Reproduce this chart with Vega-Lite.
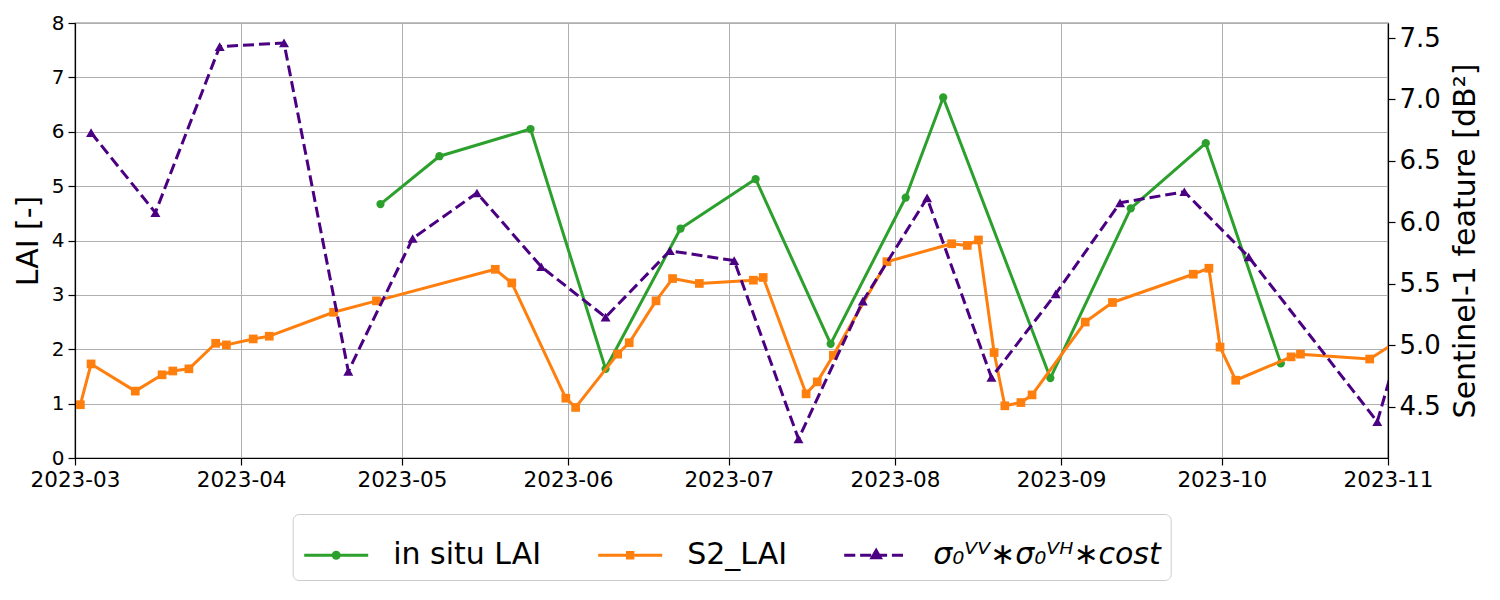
{
  "$schema": "https://vega.github.io/schema/vega-lite/v6.json",
  "width": 1313,
  "height": 435,
  "autosize": "none",
  "padding": {"left": 75, "top": 23, "right": 112, "bottom": 142},
  "background": "white",
  "config": {
    "font": "DejaVu Sans",
    "view": {"stroke": "black", "strokeWidth": 1.2},
    "axis": {
      "labelFont": "DejaVu Sans",
      "titleFont": "DejaVu Sans",
      "labelColor": "black",
      "titleColor": "black",
      "titleFontWeight": "normal",
      "domainColor": "black",
      "domainWidth": 1.2,
      "tickColor": "black",
      "tickWidth": 1.2,
      "tickSize": 7,
      "gridColor": "#b0b0b0",
      "gridWidth": 1,
      "gridOpacity": 1
    }
  },
  "datasets": {
    "insitu": [
      {"date": "2023-04-27", "series": "in situ LAI", "value": 4.67},
      {"date": "2023-05-08", "series": "in situ LAI", "value": 5.55},
      {"date": "2023-05-25", "series": "in situ LAI", "value": 6.05},
      {"date": "2023-06-08", "series": "in situ LAI", "value": 1.64},
      {"date": "2023-06-22", "series": "in situ LAI", "value": 4.22},
      {"date": "2023-07-06", "series": "in situ LAI", "value": 5.13},
      {"date": "2023-07-20", "series": "in situ LAI", "value": 2.10},
      {"date": "2023-08-03", "series": "in situ LAI", "value": 4.79},
      {"date": "2023-08-10", "series": "in situ LAI", "value": 6.63},
      {"date": "2023-08-30", "series": "in situ LAI", "value": 1.47},
      {"date": "2023-09-14", "series": "in situ LAI", "value": 4.59},
      {"date": "2023-09-28", "series": "in situ LAI", "value": 5.79},
      {"date": "2023-10-12", "series": "in situ LAI", "value": 1.74}
    ],
    "s2": [
      {"date": "2023-03-02T00:00:00Z", "series": "S2_LAI", "value": 0.98},
      {"date": "2023-03-04T00:00:00Z", "series": "S2_LAI", "value": 1.73},
      {"date": "2023-03-12T06:00:00Z", "series": "S2_LAI", "value": 1.23},
      {"date": "2023-03-17T06:00:00Z", "series": "S2_LAI", "value": 1.53},
      {"date": "2023-03-19T06:00:00Z", "series": "S2_LAI", "value": 1.60},
      {"date": "2023-03-22T06:00:00Z", "series": "S2_LAI", "value": 1.64},
      {"date": "2023-03-27T06:00:00Z", "series": "S2_LAI", "value": 2.11},
      {"date": "2023-03-29T06:00:00Z", "series": "S2_LAI", "value": 2.08},
      {"date": "2023-04-03T06:00:00Z", "series": "S2_LAI", "value": 2.19},
      {"date": "2023-04-06T06:00:00Z", "series": "S2_LAI", "value": 2.24},
      {"date": "2023-04-18T06:00:00Z", "series": "S2_LAI", "value": 2.68},
      {"date": "2023-04-26T06:00:00Z", "series": "S2_LAI", "value": 2.89},
      {"date": "2023-05-18T10:00:00Z", "series": "S2_LAI", "value": 3.47},
      {"date": "2023-05-21T12:00:00Z", "series": "S2_LAI", "value": 3.22},
      {"date": "2023-05-31T14:00:00Z", "series": "S2_LAI", "value": 1.10},
      {"date": "2023-06-02T10:00:00Z", "series": "S2_LAI", "value": 0.93},
      {"date": "2023-06-10T06:00:00Z", "series": "S2_LAI", "value": 1.91},
      {"date": "2023-06-12T10:00:00Z", "series": "S2_LAI", "value": 2.12},
      {"date": "2023-06-17T10:00:00Z", "series": "S2_LAI", "value": 2.89},
      {"date": "2023-06-20T12:00:00Z", "series": "S2_LAI", "value": 3.30},
      {"date": "2023-06-25T12:00:00Z", "series": "S2_LAI", "value": 3.21},
      {"date": "2023-07-05T14:00:00Z", "series": "S2_LAI", "value": 3.27},
      {"date": "2023-07-07T10:00:00Z", "series": "S2_LAI", "value": 3.32},
      {"date": "2023-07-15T10:00:00Z", "series": "S2_LAI", "value": 1.18},
      {"date": "2023-07-17T12:00:00Z", "series": "S2_LAI", "value": 1.40},
      {"date": "2023-07-20T12:00:00Z", "series": "S2_LAI", "value": 1.89},
      {"date": "2023-07-30T12:00:00Z", "series": "S2_LAI", "value": 3.61},
      {"date": "2023-08-11T14:00:00Z", "series": "S2_LAI", "value": 3.94},
      {"date": "2023-08-14T12:00:00Z", "series": "S2_LAI", "value": 3.91},
      {"date": "2023-08-16T14:00:00Z", "series": "S2_LAI", "value": 4.01},
      {"date": "2023-08-19T12:00:00Z", "series": "S2_LAI", "value": 1.94},
      {"date": "2023-08-21T12:00:00Z", "series": "S2_LAI", "value": 0.96},
      {"date": "2023-08-24T12:00:00Z", "series": "S2_LAI", "value": 1.02},
      {"date": "2023-08-26T14:00:00Z", "series": "S2_LAI", "value": 1.16},
      {"date": "2023-09-05T12:00:00Z", "series": "S2_LAI", "value": 2.50},
      {"date": "2023-09-10T14:00:00Z", "series": "S2_LAI", "value": 2.86},
      {"date": "2023-09-25T16:00:00Z", "series": "S2_LAI", "value": 3.38},
      {"date": "2023-09-28T14:00:00Z", "series": "S2_LAI", "value": 3.49},
      {"date": "2023-09-30T16:00:00Z", "series": "S2_LAI", "value": 2.04},
      {"date": "2023-10-03T14:00:00Z", "series": "S2_LAI", "value": 1.43},
      {"date": "2023-10-13T22:00:00Z", "series": "S2_LAI", "value": 1.86},
      {"date": "2023-10-15T16:00:00Z", "series": "S2_LAI", "value": 1.91},
      {"date": "2023-10-28T14:00:00Z", "series": "S2_LAI", "value": 1.82},
      {"date": "2023-11-02T12:00:00Z", "series": "S2_LAI", "value": 2.13}
    ],
    "s1": [
      {"date": "2023-03-04", "series": "σ₀ⱽⱽ∗σ₀ⱽᴴ∗cost", "value": 6.73},
      {"date": "2023-03-16", "series": "σ₀ⱽⱽ∗σ₀ⱽᴴ∗cost", "value": 6.08},
      {"date": "2023-03-28", "series": "σ₀ⱽⱽ∗σ₀ⱽᴴ∗cost", "value": 7.43},
      {"date": "2023-04-09", "series": "σ₀ⱽⱽ∗σ₀ⱽᴴ∗cost", "value": 7.46},
      {"date": "2023-04-21", "series": "σ₀ⱽⱽ∗σ₀ⱽᴴ∗cost", "value": 4.79},
      {"date": "2023-05-03", "series": "σ₀ⱽⱽ∗σ₀ⱽᴴ∗cost", "value": 5.87},
      {"date": "2023-05-15", "series": "σ₀ⱽⱽ∗σ₀ⱽᴴ∗cost", "value": 6.24},
      {"date": "2023-05-27", "series": "σ₀ⱽⱽ∗σ₀ⱽᴴ∗cost", "value": 5.64},
      {"date": "2023-06-08", "series": "σ₀ⱽⱽ∗σ₀ⱽᴴ∗cost", "value": 5.23},
      {"date": "2023-06-20", "series": "σ₀ⱽⱽ∗σ₀ⱽᴴ∗cost", "value": 5.77},
      {"date": "2023-07-02", "series": "σ₀ⱽⱽ∗σ₀ⱽᴴ∗cost", "value": 5.69},
      {"date": "2023-07-14", "series": "σ₀ⱽⱽ∗σ₀ⱽᴴ∗cost", "value": 4.24},
      {"date": "2023-07-26", "series": "σ₀ⱽⱽ∗σ₀ⱽᴴ∗cost", "value": 5.36},
      {"date": "2023-08-07", "series": "σ₀ⱽⱽ∗σ₀ⱽᴴ∗cost", "value": 6.20},
      {"date": "2023-08-19", "series": "σ₀ⱽⱽ∗σ₀ⱽᴴ∗cost", "value": 4.74},
      {"date": "2023-08-31", "series": "σ₀ⱽⱽ∗σ₀ⱽᴴ∗cost", "value": 5.42},
      {"date": "2023-09-12", "series": "σ₀ⱽⱽ∗σ₀ⱽᴴ∗cost", "value": 6.16},
      {"date": "2023-09-24", "series": "σ₀ⱽⱽ∗σ₀ⱽᴴ∗cost", "value": 6.25},
      {"date": "2023-10-06", "series": "σ₀ⱽⱽ∗σ₀ⱽᴴ∗cost", "value": 5.72},
      {"date": "2023-10-30", "series": "σ₀ⱽⱽ∗σ₀ⱽᴴ∗cost", "value": 4.38},
      {"date": "2023-11-11", "series": "σ₀ⱽⱽ∗σ₀ⱽᴴ∗cost", "value": 6.20}
    ]
  },
  "encoding": {
    "x": {
      "field": "date",
      "type": "temporal",
      "scale": {
        "type": "utc",
        "domain": [
          {"year": 2023, "month": 3, "date": 1, "utc": true},
          {"year": 2023, "month": 11, "date": 1, "utc": true}
        ]
      },
      "axis": {
        "title": null,
        "format": "%Y-%m",
        "tickCount": {"interval": "month", "step": 1},
        "labelFontSize": 21.5,
        "labelPadding": 4,
        "labelFlush": false,
        "labelOverlap": false,
        "grid": true
      }
    },
    "color": {
      "field": "series",
      "type": "nominal",
      "scale": {
        "domain": ["in situ LAI", "S2_LAI", "σ₀ⱽⱽ∗σ₀ⱽᴴ∗cost"],
        "range": ["#2ca02c", "#ff7f0e", "#4b0082"]
      },
      "legend": {
        "orient": "none",
        "legendX": 217.7,
        "legendY": 491,
        "direction": "horizontal",
        "columns": 3,
        "title": null,
        "labelFont": "DejaVu Sans",
        "labelFontSize": 30,
        "labelColor": "black",
        "labelLimit": 0,
        "labelOffset": 28,
        "symbolSize": 3600,
        "symbolStrokeWidth": 3,
        "columnPadding": 51,
        "padding": 9.5,
        "strokeColor": "#cccccc",
        "cornerRadius": 6,
        "fillColor": "white",
        "encode": {
          "symbols": {
            "update": {
              "shape": {"signal": "indexof(datum.value, 'cost') >= 0 ? 'M-0.983,0H-0.613M-0.453,0H-0.083M0.077,0H0.447M0.607,0H0.977M0.083,-0.16L0.223,0.08L-0.057,0.08Z' : datum.value == 'S2_LAI' ? 'M-0.983,0H1.15M-0.007,-0.09H0.173V0.09H-0.007Z' : 'M-0.983,0H1.15M-0.017,0A0.1,0.1,0,1,0,0.183,0A0.1,0.1,0,1,0,-0.017,0Z'"},
              "fill": {"scale": "color", "field": "value"},
              "stroke": {"scale": "color", "field": "value"},
              "strokeWidth": {"value": 3},
              "opacity": {"value": 1}
            }
          },
          "labels": {
            "update": {
              "fontStyle": {"signal": "indexof(datum.value, 'cost') >= 0 ? 'italic' : 'normal'"}
            }
          }
        }
      }
    }
  },
  "layer": [
    {
      "encoding": {
        "y": {
          "field": "value",
          "type": "quantitative",
          "scale": {"domain": [0, 8], "nice": false, "zero": false},
          "axis": {
            "values": [0, 1, 2, 3, 4, 5, 6, 7, 8],
            "labelFontSize": 20,
            "labelPadding": 4,
            "title": "LAI [-]",
            "titleFontSize": 30,
            "titlePadding": 8,
            "grid": true
          }
        }
      },
      "layer": [
        {"data": {"name": "insitu"}, "mark": {"type": "line", "strokeWidth": 3, "strokeJoin": "round", "clip": true}},
        {"data": {"name": "insitu"}, "mark": {"type": "point", "shape": "circle", "filled": true, "size": 68, "opacity": 1, "clip": true}},
        {"data": {"name": "s2"}, "mark": {"type": "line", "strokeWidth": 3, "strokeJoin": "round", "clip": true}},
        {"data": {"name": "s2"}, "mark": {"type": "point", "shape": "square", "filled": true, "size": 76, "opacity": 1, "clip": true}}
      ]
    },
    {
      "encoding": {
        "y": {
          "field": "value",
          "type": "quantitative",
          "scale": {"domain": [4.085, 7.622], "nice": false, "zero": false},
          "axis": {
            "orient": "right",
            "values": [4.5, 5, 5.5, 6, 6.5, 7, 7.5],
            "format": ".1f",
            "labelFontSize": 26,
            "labelPadding": 4,
            "title": "Sentinel-1 feature [dB²]",
            "titleFontSize": 30,
            "titleAngle": 270,
            "titlePadding": 40,
            "grid": false
          }
        }
      },
      "layer": [
        {"data": {"name": "s1"}, "mark": {"type": "line", "strokeWidth": 3, "strokeDash": [11, 5], "strokeJoin": "round", "clip": true}},
        {"data": {"name": "s1"}, "mark": {"type": "point", "shape": "triangle-up", "filled": true, "size": 100, "opacity": 1, "clip": true}}
      ]
    }
  ],
  "resolve": {"scale": {"y": "independent"}}
}
